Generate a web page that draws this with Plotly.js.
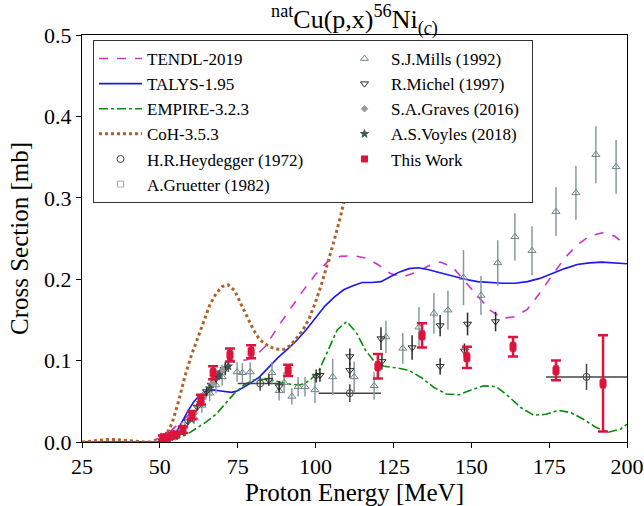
<!DOCTYPE html>
<html>
<head>
<meta charset="utf-8">
<script src="https://cdn.plot.ly/plotly-3.0.1.min.js"></script>
<style>
body{margin:0;padding:0;background:#fff;}
#chart{width:644px;height:506px;}
#chart text{font-family:'Liberation Serif',serif !important;}
</style>
</head>
<body>
<div id="chart"></div>
<script>
// ---- model curves ----
const tendlE = [25,40,45,47,50,53,56,60,63,66,69,72,75,78,81,84,88,92,96,100,104,108,112,116,120,124,128,132,136,140,144,148,152,156,160,164,168,172,176,180,184,188,192,196,200];
const tendlS = [0,0,0,0.001,0.005,0.012,0.022,0.036,0.05,0.066,0.085,0.1,0.1,0.101,0.107,0.118,0.142,0.164,0.186,0.206,0.222,0.228,0.229,0.226,0.218,0.207,0.203,0.208,0.216,0.221,0.215,0.197,0.18,0.162,0.152,0.154,0.163,0.183,0.205,0.226,0.242,0.253,0.257,0.253,0.241];

const talysE = [25,45,49,51,53,55,57,59,61,63,65,67,69,71,73,75,77,79,82,85,88,91,94,97,100,103,106,109,112,115,118,121,124,127,130,133,136,140,144,148,152,156,160,164,168,172,176,180,184,188,192,196,200];
const talysS = [0,0,0,0.001,0.003,0.01,0.025,0.038,0.05,0.058,0.063,0.064,0.063,0.062,0.061,0.063,0.067,0.072,0.08,0.092,0.104,0.114,0.125,0.138,0.153,0.167,0.178,0.187,0.192,0.196,0.196,0.197,0.203,0.209,0.213,0.214,0.212,0.208,0.204,0.2,0.197,0.196,0.195,0.195,0.197,0.201,0.207,0.213,0.218,0.22,0.221,0.22,0.219];

const empireE = [25,50,53,56,59,62,65,68,71,74,77,80,83,86,89,92,95,98,101,104,107,110,113,116,119,122,126,130,134,138,142,146,150,154,158,162,166,170,174,178,182,186,190,194,198,200];
const empireS = [0,0,0.002,0.005,0.01,0.017,0.025,0.034,0.047,0.06,0.07,0.076,0.077,0.076,0.073,0.071,0.07,0.075,0.087,0.112,0.138,0.148,0.135,0.113,0.098,0.093,0.091,0.088,0.079,0.067,0.059,0.058,0.064,0.069,0.068,0.056,0.042,0.033,0.034,0.039,0.036,0.028,0.018,0.012,0.016,0.022];

const cohE = [25,28,30,33,36,39,42,45,48,50,52,54,56,58,60,62,64,66,68,70,72,74,76,78,80,82,84,86,88,90,92,94,96,98,100,102,104,106,108,110,112,114,116];
const cohS = [0,0.001,0.002,0.003,0.003,0.002,0.001,0,0,0.001,0.008,0.024,0.05,0.08,0.105,0.125,0.147,0.168,0.182,0.191,0.193,0.186,0.17,0.153,0.138,0.126,0.12,0.116,0.114,0.114,0.119,0.128,0.138,0.152,0.172,0.195,0.22,0.248,0.277,0.31,0.35,0.39,0.43];

// ---- experimental data ----
const heydE = [82.2,111,187];
const heydS = [0.072,0.060,0.080];
const heydDx = [7.2,10,13];
const heydDy = [0.009,0.011,0.016];

const gruE = [58,64];
const gruS = [0.02,0.056];
const gruDy = [0.004,0.008];

const millsE = [61,63.5,66,68,70,74.8,76.5,79,86,88.3,89.9,92.4,94.4,96.6,99.8,105.5,112.4,118.8,122.6,128,133.2,138,142.5,147.5,153.1,158.5,164,169.5,177.2,183.6,190,196.5];
const millsS = [0.03,0.045,0.06,0.07,0.08,0.086,0.085,0.086,0.085,0.063,0.073,0.056,0.068,0.068,0.064,0.08,0.08,0.069,0.129,0.115,0.141,0.158,0.162,0.202,0.18,0.22,0.252,0.235,0.283,0.306,0.353,0.338];
const millsDy = [0.008,0.009,0.01,0.01,0.011,0.012,0.012,0.012,0.013,0.012,0.013,0.01,0.012,0.012,0.016,0.022,0.019,0.017,0.02,0.019,0.025,0.025,0.024,0.034,0.024,0.028,0.029,0.03,0.03,0.033,0.035,0.033];

const michelE = [56,57.5,59,60.5,62,63.5,65,66.5,68,69.5,71,85,88.3,100.2,101.4,111,111,121,121.3,131,140,140,147.8,148.8,157.8];
const michelS = [0.01,0.017,0.025,0.034,0.043,0.053,0.062,0.07,0.078,0.085,0.09,0.076,0.068,0.081,0.082,0.105,0.088,0.127,0.099,0.116,0.143,0.093,0.112,0.145,0.148];
const michelDy = [0.002,0.003,0.003,0.004,0.004,0.005,0.006,0.006,0.007,0.007,0.008,0.007,0.007,0.008,0.008,0.01,0.009,0.014,0.01,0.015,0.013,0.01,0.009,0.014,0.012];

const gravesE = [55,58,61,64,67,70];
const gravesS = [0.006,0.018,0.035,0.055,0.072,0.088];
const gravesDy = [0.002,0.003,0.004,0.005,0.006,0.007];

const voylesE = [57,60,63,66,69,72];
const voylesS = [0.012,0.028,0.048,0.066,0.082,0.093];
const voylesDy = [0.002,0.003,0.004,0.005,0.006,0.007];

const workE = [51,52.6,54.9,57.4,60.3,63.2,67.1,72.5,79.3,91.2,120,134.2,148.6,163.4,177.2,192.3];
const workS = [0.005,0.006,0.009,0.015,0.033,0.052,0.085,0.107,0.111,0.088,0.093,0.131,0.104,0.117,0.088,0.072];
const workDy = [0.003,0.003,0.003,0.004,0.005,0.006,0.008,0.008,0.008,0.007,0.015,0.015,0.013,0.012,0.012,0.059];
const workDx = [0.5,0.5,0.5,0.5,0.5,0.5,0.5,0.5,0.5,0.5,0.5,0.5,0.5,0.5,0.5,0.5];

const FONT = 'Liberation Serif';

function line(name, x, y, color, dash, width, rank) {
  return {type:'scatter', mode:'lines', name:name, x:x, y:y, legendrank:rank,
    line:{color:color, dash:dash, width:width}};
}
function pts(name, x, y, dy, dx, color, symbol, size, rank, ecolor) {
  const t = {type:'scatter', mode:'markers', name:name, x:x, y:y, legendrank:rank,
    marker:{symbol:symbol, size:size, color:color, line:{color:color, width:1}},
    error_y:{type:'data', array:dy, visible:true, color:ecolor||color, thickness:1.5, width:0}};
  if (dx) t.error_x = {type:'data', array:dx, visible:true, color:ecolor||color, thickness:1.5, width:0};
  return t;
}

const traces = [
  line('TENDL-2019', tendlE, tendlS, '#cc33cc', 'dash', 1.6, 1),
  line('TALYS-1.95', talysE, talysS, '#1a1aee', 'solid', 1.6, 3),
  line('EMPIRE-3.2.3', empireE, empireS, '#0a8a0a', 'dashdot', 1.6, 5),
  line('CoH-3.5.3', cohE, cohS, '#b0602c', 'dot', 3, 7),
  pts('H.R.Heydegger (1972)', heydE, heydS, heydDy, heydDx, '#444444', 'circle-open', 7, 9),
  pts('A.Gruetter (1982)', gruE, gruS, gruDy, null, '#aaaaaa', 'square-open', 6, 11),
  pts('S.J.Mills (1992)', millsE, millsS, millsDy, null, '#6f8484', 'triangle-up-open', 7, 2, '#8a9a9a'),
  pts('R.Michel (1997)', michelE, michelS, michelDy, null, '#2a2a2a', 'triangle-down-open', 7, 4),
  pts('S.A.Graves (2016)', gravesE, gravesS, gravesDy, null, '#9a9a9a', 'diamond', 5, 6),
  pts('A.S.Voyles (2018)', voylesE, voylesS, voylesDy, null, '#3f5555', 'star', 6, 8),
  {type:'scatter', mode:'markers', name:'This Work', x:workE, y:workS, legendrank:10,
    marker:{symbol:'square', size:7, color:'#dc143c'},
    error_y:{type:'data', array:workDy, visible:true, color:'#dc143c', thickness:2.5, width:5},
    error_x:{type:'data', array:workDx, visible:true, color:'#dc143c', thickness:2.5, width:5}}
];
// shorter entry width for second legend column
[6,7,8,9,10].forEach(i => { traces[i].legendwidth = 136; });

const layout = {
  width:644, height:506,
  margin:{l:82, r:17, t:35, b:64},
  paper_bgcolor:'#fff', plot_bgcolor:'#fff',
  font:{family:FONT, color:'#000'},
  title:{text:'<sup>nat</sup>Cu(p,x)<sup>56</sup>Ni<sub>(<i>c</i>)</sub>', font:{family:FONT, size:26, color:'#000'},
    x:0.5, xref:'paper', xanchor:'center', y:0.962, yref:'container', yanchor:'middle'},
  xaxis:{range:[25,200], tick0:25, dtick:25, showgrid:false, zeroline:false,
    showline:true, linecolor:'#000', linewidth:1, mirror:true,
    ticks:'outside', ticklen:5, tickcolor:'#000', tickfont:{family:FONT, size:22, color:'#000'},
    title:{text:'Proton Energy [MeV]', font:{family:FONT, size:25, color:'#000'}, standoff:2}},
  yaxis:{range:[0,0.5], dtick:0.1, tickformat:'.1f', showgrid:false, zeroline:false,
    showline:true, linecolor:'#000', linewidth:1, mirror:true,
    ticks:'outside', ticklen:5, tickcolor:'#000', tickfont:{family:FONT, size:22, color:'#000'},
    title:{text:'Cross Section [mb]', font:{family:FONT, size:25, color:'#000'}, standoff:8}},
  legend:{orientation:'h', x:0.0202, xanchor:'left', y:0.9877, yanchor:'top',
    entrywidth:186, entrywidthmode:'pixels', itemwidth:43,
    bgcolor:'rgba(255,255,255,1)', bordercolor:'#333', borderwidth:1,
    font:{family:FONT, size:17, color:'#000'}, traceorder:'normal'},
  showlegend:true
};

Plotly.newPlot('chart', traces, layout, {displayModeBar:false, staticPlot:true});
</script>
</body>
</html>
